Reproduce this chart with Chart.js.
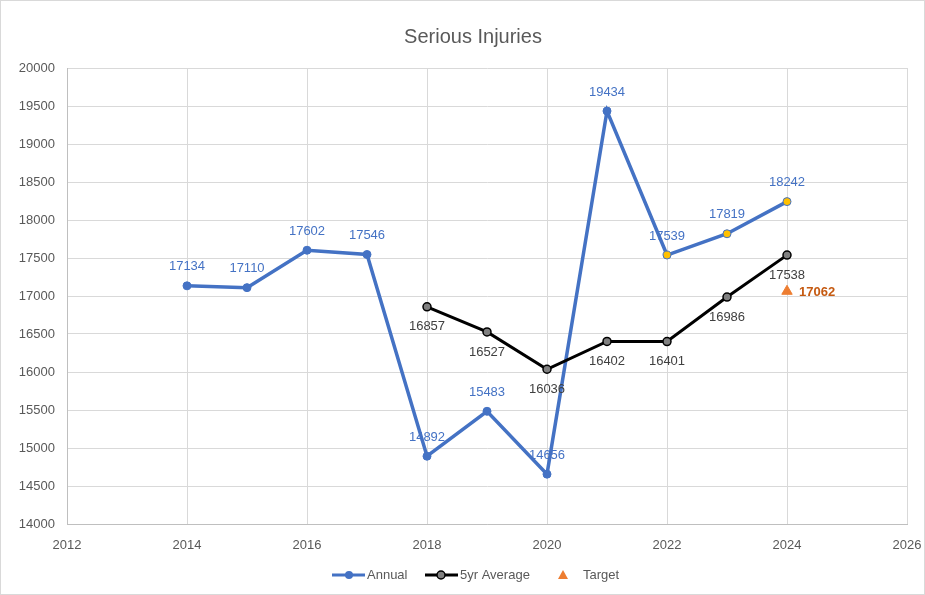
<!DOCTYPE html>
<html>
<head>
<meta charset="utf-8">
<script src="https://cdn.jsdelivr.net/npm/chart.js@4.4.1/dist/chart.umd.min.js"></script>
<style>
  body { margin: 0; background: #fff; }
  canvas { display: block; }
</style>
</head>
<body>
<canvas id="injuryChart" width="925" height="595"></canvas>
<script>
// --- Data ---
const annualYears = [2014, 2015, 2016, 2017, 2018, 2019, 2020, 2021, 2022, 2023, 2024];
const annualValues = [17134, 17110, 17602, 17546, 14892, 15483, 14656, 19434, 17539, 17819, 18242];
const avgYears = [2018, 2019, 2020, 2021, 2022, 2023, 2024];
const avgValues = [16857, 16527, 16036, 16402, 16401, 16986, 17538];
const targetYears = [2024];
const targetValues = [17062];
const yTicks = { min: 14000, max: 20000, step: 500 };
const xTicks = { min: 2012, max: 2026, step: 2 };

const FONT = '"Liberation Sans", Arial, sans-serif';
const BLUE = '#4472C4';
const GOLD = '#FFC000';
const ORANGE = '#ED7D31';

function toPoints(xs, ys) {
  return xs.map((x, i) => ({ x: x, y: ys[i] }));
}

// annual points from 2022 on are filled gold
const annualFill = annualYears.map(y => (y >= 2022 ? GOLD : BLUE));

// Draws white background, border and title
const framePlugin = {
  id: 'frame',
  beforeDraw(chart) {
    const ctx = chart.ctx;
    ctx.save();
    ctx.fillStyle = '#fff';
    ctx.fillRect(0, 0, chart.width, chart.height);
    ctx.strokeStyle = '#d9d9d9';
    ctx.lineWidth = 1;
    ctx.strokeRect(0.5, 0.5, chart.width - 1, chart.height - 1);
    ctx.fillStyle = '#595959';
    ctx.font = '20px ' + FONT;
    ctx.textAlign = 'center';
    ctx.textBaseline = 'middle';
    ctx.fillText('Serious Injuries', 473, 37);
    ctx.restore();
  }
};

// Simple data labels (no datalabels plugin available)
const labelPlugin = {
  id: 'pointLabels',
  afterDatasetsDraw(chart) {
    const ctx = chart.ctx;
    ctx.save();
    chart.data.datasets.forEach((ds, i) => {
      const meta = chart.getDatasetMeta(i);
      meta.data.forEach((el, j) => {
        const v = ds.data[j].y;
        ctx.font = (ds.labelBold ? 'bold ' : '') + '13px ' + FONT;
        ctx.fillStyle = ds.labelColor;
        ctx.textBaseline = 'middle';
        if (ds.labelPos === 'top') {
          ctx.textAlign = 'center';
          ctx.fillText(v, el.x, el.y - 19);
        } else if (ds.labelPos === 'bottom') {
          ctx.textAlign = 'center';
          ctx.fillText(v, el.x, el.y + 20);
        } else {
          ctx.textAlign = 'left';
          ctx.fillText(v, el.x + 12, el.y + 1);
        }
      });
    });
    ctx.restore();
  }
};

// Excel style legend at the bottom
const legendPlugin = {
  id: 'bottomLegend',
  afterDraw(chart) {
    const ctx = chart.ctx;
    const y = 575;
    ctx.save();
    ctx.font = '13px ' + FONT;
    ctx.fillStyle = '#595959';
    ctx.textBaseline = 'middle';
    ctx.textAlign = 'left';

    // Annual
    ctx.strokeStyle = BLUE;
    ctx.lineWidth = 3;
    ctx.beginPath(); ctx.moveTo(332, y); ctx.lineTo(365, y); ctx.stroke();
    ctx.fillStyle = BLUE;
    ctx.beginPath(); ctx.arc(349, y, 4, 0, Math.PI * 2); ctx.fill();
    ctx.fillStyle = '#595959';
    ctx.fillText('Annual', 367, y);

    // 5yr Average
    ctx.strokeStyle = '#000';
    ctx.beginPath(); ctx.moveTo(425, y); ctx.lineTo(458, y); ctx.stroke();
    ctx.fillStyle = '#808080';
    ctx.lineWidth = 1.5;
    ctx.beginPath(); ctx.arc(441, y, 4, 0, Math.PI * 2); ctx.fill(); ctx.stroke();
    ctx.fillStyle = '#595959';
    ctx.fillText('5yr Average', 460, y);

    // Target
    ctx.fillStyle = ORANGE;
    ctx.beginPath();
    ctx.moveTo(563, y - 5); ctx.lineTo(568, y + 4); ctx.lineTo(558, y + 4);
    ctx.closePath(); ctx.fill();
    ctx.fillStyle = '#595959';
    ctx.fillText('Target', 583, y);
    ctx.restore();
  }
};

const ctx = document.getElementById('injuryChart').getContext('2d');
const injuryChart = new Chart(ctx, {
  type: 'line',
  data: {
    datasets: [
      {
        label: 'Annual',
        data: toPoints(annualYears, annualValues),
        borderColor: BLUE,
        borderWidth: 3.5,
        pointRadius: 4,
        pointBackgroundColor: annualFill,
        pointBorderColor: BLUE,
        pointBorderWidth: 1,
        tension: 0,
        order: 2,
        labelPos: 'top',
        labelColor: BLUE
      },
      {
        label: '5yr Average',
        data: toPoints(avgYears, avgValues),
        borderColor: '#000',
        borderWidth: 3,
        pointRadius: 4,
        pointBackgroundColor: '#808080',
        pointBorderColor: '#000',
        pointBorderWidth: 1.5,
        tension: 0,
        order: 1,
        labelPos: 'bottom',
        labelColor: '#404040'
      },
      {
        label: 'Target',
        data: toPoints(targetYears, targetValues),
        showLine: false,
        pointStyle: 'triangle',
        pointRadius: 6,
        pointBackgroundColor: ORANGE,
        pointBorderColor: ORANGE,
        order: 0,
        labelPos: 'right',
        labelColor: '#C55A11',
        labelBold: true
      }
    ]
  },
  options: {
    responsive: false,
    animation: false,
    layout: { padding: { top: 68, right: 18, bottom: 40, left: 0 } },
    plugins: {
      legend: { display: false },
      title: { display: false },
      tooltip: { enabled: false }
    },
    scales: {
      x: {
        type: 'linear',
        min: xTicks.min,
        max: xTicks.max,
        ticks: {
          stepSize: xTicks.step,
          padding: 14,
          color: '#595959',
          font: { size: 13, family: FONT },
          callback: v => String(v)
        },
        grid: { color: '#d9d9d9', drawTicks: false },
        border: { color: '#bfbfbf' },
        afterFit(scale) {
          scale.height = 31;
          scale.paddingLeft = 0;
          scale.paddingRight = 0;
        }
      },
      y: {
        min: yTicks.min,
        max: yTicks.max,
        ticks: {
          stepSize: yTicks.step,
          padding: 12,
          color: '#595959',
          font: { size: 13, family: FONT },
          callback: v => String(v)
        },
        grid: { color: '#d9d9d9', drawTicks: false },
        border: { color: '#bfbfbf' },
        afterFit(scale) {
          scale.width = 67;
          scale.paddingTop = 0;
          scale.paddingBottom = 0;
        }
      }
    }
  },
  plugins: [framePlugin, labelPlugin, legendPlugin]
});
</script>
</body>
</html>
